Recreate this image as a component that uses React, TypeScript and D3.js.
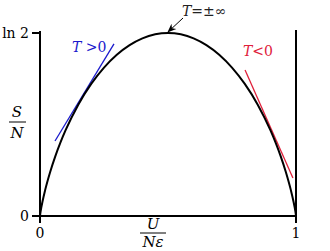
import React from "react";
import * as d3 from "d3";

// Entropy curve: U/(Nε) vs S/N
const uValues = [0, 0.001, 0.005, 0.01, 0.02, 0.04, 0.06, 0.08, 0.1, 0.15, 0.2, 0.25, 0.3, 0.35, 0.4, 0.45, 0.5,
  0.55, 0.6, 0.65, 0.7, 0.75, 0.8, 0.85, 0.9, 0.92, 0.94, 0.96, 0.98, 0.99, 0.995, 0.999, 1];
const sValues = [0, 0.0079, 0.0315, 0.056, 0.098, 0.1679, 0.227, 0.2788, 0.3251, 0.4227, 0.5004, 0.5623, 0.6109, 0.6474, 0.673, 0.6881, 0.6931,
  0.6881, 0.673, 0.6474, 0.6109, 0.5623, 0.5004, 0.4227, 0.3251, 0.2788, 0.227, 0.1679, 0.098, 0.056, 0.0315, 0.0079, 0];

// tangent segments [u, s]
const positiveT = [[0.0586, 0.284], [0.289, 0.652]];
const negativeT = [[0.801, 0.553], [0.988, 0.144]];

const xTicks = [{ v: 0, label: "0" }, { v: 1, label: "1" }];
const yTicks = [{ v: 0, label: "0" }, { v: Math.LN2, label: "ln 2" }];

export default function App() {
  const W = 330, H = 251;
  const x = d3.scaleLinear().domain([0, 1]).range([40, 296]);
  const y = d3.scaleLinear().domain([0, Math.LN2]).range([216, 33]);
  const pts = uValues.map((u, i) => [u, sValues[i]] as [number, number]);
  const line = d3.line<[number, number]>().x(d => x(d[0])).y(d => y(d[1])).curve(d3.curveMonotoneX);
  const font = "'DejaVu Serif', serif";
  return (
    <svg width={W} height={H} style={{ position: "absolute", left: 0, top: 0, fontFamily: font }}>
      <defs>
        <marker id="arr" viewBox="0 0 10 10" refX="9" refY="5" markerWidth="9" markerHeight="9" markerUnits="userSpaceOnUse" orient="auto">
          <path d="M0,1 L10,5 L0,9 L3,5 Z" fill="#000" />
        </marker>
      </defs>
      {/* axes */}
      <line x1={x(0)} x2={x(0)} y1={y(0)} y2={31} stroke="#000" strokeWidth={2} />
      <line x1={x(1)} x2={x(1)} y1={y(0)} y2={30} stroke="#000" strokeWidth={2} />
      <line x1={32} x2={x(1)} y1={y(0)} y2={y(0)} stroke="#000" strokeWidth={2} />
      {yTicks.map(t => (
        <g key={t.label}>
          <line x1={32} x2={x(0)} y1={y(t.v)} y2={y(t.v)} stroke="#000" strokeWidth={2} />
          <text x={29} y={y(t.v) + 5} textAnchor="end" fontSize={14}>{t.label}</text>
        </g>
      ))}
      {xTicks.map(t => (
        <g key={t.label}>
          <line x1={x(t.v)} x2={x(t.v)} y1={y(0)} y2={223} stroke="#000" strokeWidth={2} />
          <text x={x(t.v)} y={238} textAnchor="middle" fontSize={14}>{t.label}</text>
        </g>
      ))}
      {/* axis labels as fractions */}
      <text x={17} y={117} textAnchor="middle" fontSize={15} fontStyle="italic">S</text>
      <line x1={9} x2={26} y1={122} y2={122} stroke="#000" strokeWidth={1} />
      <text x={17} y={138} textAnchor="middle" fontSize={15} fontStyle="italic">N</text>
      <text x={153} y={229} textAnchor="middle" fontSize={15} fontStyle="italic">U</text>
      <line x1={140} x2={166} y1={233} y2={233} stroke="#000" strokeWidth={1} />
      <text x={153} y={247} textAnchor="middle" fontSize={15} fontStyle="italic">Nε</text>
      {/* tangents */}
      <line x1={x(positiveT[0][0])} y1={y(positiveT[0][1])} x2={x(positiveT[1][0])} y2={y(positiveT[1][1])} stroke="#1a1acc" strokeWidth={1.3} />
      <line x1={x(negativeT[0][0])} y1={y(negativeT[0][1])} x2={x(negativeT[1][0])} y2={y(negativeT[1][1])} stroke="#e0203a" strokeWidth={1.3} />
      {/* curve */}
      <path d={line(pts) || ""} fill="none" stroke="#000" strokeWidth={2} />
      {/* annotations */}
      <text x={72} y={52} fontSize={14} fill="#1a1acc"><tspan fontStyle="italic">T</tspan> &gt;0</text>
      <text x={243} y={56} fontSize={14} fill="#e0203a"><tspan fontStyle="italic">T</tspan>&lt;0</text>
      <text x={182} y={16} fontSize={14} fill="#222"><tspan fontStyle="italic">T</tspan>=±∞</text>
      <line x1={183} y1={18} x2={x(0.5)} y2={32} stroke="#000" strokeWidth={1} markerEnd="url(#arr)" />
    </svg>
  );
}
